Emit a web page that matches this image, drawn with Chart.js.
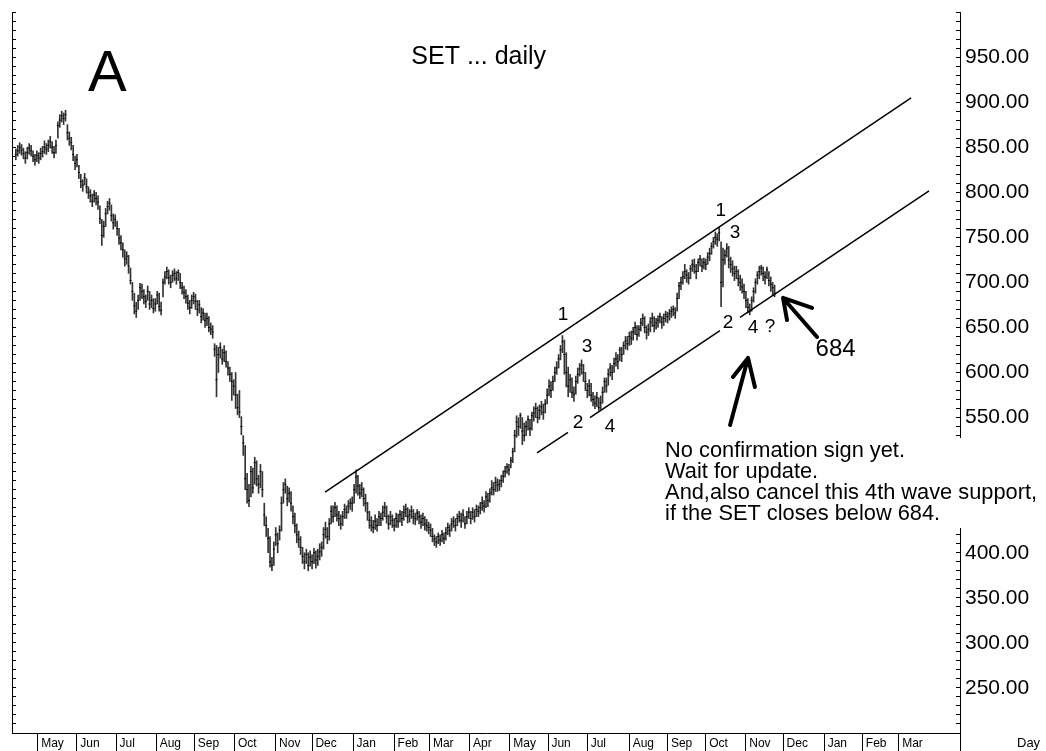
<!DOCTYPE html>
<html>
<head>
<meta charset="utf-8">
<title>SET ... daily</title>
<script src="https://cdn.jsdelivr.net/npm/chart.js@4.4.1/dist/chart.umd.min.js"></script>
<style>
  html, body { margin: 0; padding: 0; background: #fff; }
  #wrap { width: 1046px; height: 751px; }
</style>
</head>
<body>
<div id="wrap"><canvas id="chart"></canvas></div>
<script>
// x axis counts trading days, month labels sit at the first day of each month
const monthNames = ['May', 'Jun', 'Jul', 'Aug', 'Sep', 'Oct', 'Nov', 'Dec', 'Jan', 'Feb', 'Mar', 'Apr',
    'May', 'Jun', 'Jul', 'Aug', 'Sep', 'Oct', 'Nov', 'Dec', 'Jan', 'Feb', 'Mar'];
const monthStarts = [13.5, 34, 54.5, 75.5, 95.5, 116.5, 138, 157, 178.5, 200, 218.5, 239.5,
    260.5, 280.5, 301, 323, 343, 363, 384, 403.5, 425, 445, 464];
const lastDay = 496;
const priceLabels = [250, 300, 350, 400, 450, 500, 550, 600, 650, 700, 750, 800, 850, 900, 950];

const firstDay = 2;
const closes = [
    842, 846, 850, 847, 843, 838, 844, 849, 846, 840,
    836, 841, 838, 843, 845, 850, 848, 852, 856, 850,
    844, 852, 874, 880, 885, 882, 886, 866, 860, 855,
    842, 832, 836, 822, 812, 808, 816, 806, 800, 796,
    790, 797, 793, 789, 771, 752, 762, 776, 784, 788,
    774, 766, 770, 760, 749, 744, 736, 726, 729, 718,
    702, 690, 674, 668, 680, 694, 690, 684, 679, 690,
    676, 680, 671, 676, 686, 673, 669, 700, 706, 712,
    705, 700, 708, 710, 704, 711, 700, 694, 689, 684,
    677, 672, 680, 684, 679, 670, 675, 662, 666, 658,
    660, 650, 648, 645, 626, 592, 620, 628, 615, 622,
    612, 605, 598, 590, 585, 575, 561, 556, 540, 522,
    482, 470, 458, 490, 472, 500, 482, 476, 490, 470,
    442, 430, 416, 390, 386, 404, 420, 410, 425, 455,
    470, 476, 460, 466, 455, 440, 430, 420, 415, 406,
    396, 390, 398, 386, 395, 390, 400, 392, 396, 401,
    406, 420, 426, 418, 432, 446, 440, 450, 442, 438,
    432, 440, 448, 445, 452, 455, 455, 470, 484, 474,
    466, 470, 460, 455, 445, 436, 430, 428, 435, 430,
    440, 438, 445, 450, 440, 432, 440, 436, 430, 438,
    435, 442, 438, 445, 448, 440, 442, 446, 440, 438,
    444, 440, 434, 438, 432, 430, 428, 425, 418, 415,
    412, 418, 414, 420, 416, 422, 428, 425, 432, 435,
    430, 438, 440, 436, 442, 432, 440, 445, 438, 445,
    440, 448, 446, 450, 455, 452, 462, 458, 466, 472,
    470, 478, 475, 476, 480, 485, 490, 495, 492, 502,
    512, 530, 545, 540, 552, 535, 530, 540, 548, 538,
    552, 555, 560, 550, 558, 562, 556, 565, 575, 585,
    580, 590, 600, 605, 615, 625, 634, 620, 600, 585,
    592, 578, 576, 590, 598, 604, 608, 600, 590, 580,
    585, 575, 570, 566, 572, 561, 566, 578, 590, 585,
    598, 605, 600, 610, 615, 612, 625, 620, 630, 635,
    632, 640, 638, 645, 650, 642, 648, 655, 660, 650,
    645, 648, 656, 660, 652, 655, 658, 662, 656, 660,
    664, 662, 665, 668, 670, 666, 682, 696, 700, 706,
    712, 708, 705, 715, 720, 718, 712, 722, 726, 718,
    722, 720, 728, 732, 740, 745, 750, 748, 755, 700,
    725, 730, 738, 725, 720, 715, 710, 712, 704, 700,
    695, 690, 680, 672, 668, 680, 690, 700, 708, 712,
    716, 710, 706, 714, 702, 698, 694, 688
];
const highs = [
    848, 852, 855, 853, 849, 845, 850, 854, 852, 846,
    842, 846, 844, 849, 851, 857, 854, 858, 862, 856,
    851, 858, 878, 886, 890, 888, 891, 875, 867, 861,
    852, 840, 842, 830, 820, 814, 821, 815, 806, 803,
    798, 802, 800, 796, 785, 770, 768, 782, 790, 793,
    786, 776, 775, 768, 760, 752, 744, 736, 734, 730,
    716, 700, 688, 678, 686, 699, 698, 692, 686, 696,
    690, 686, 682, 682, 690, 688, 678, 704, 712, 717,
    714, 708, 713, 715, 712, 714, 710, 700, 696, 692,
    686, 680, 686, 689, 687, 680, 680, 672, 671, 666,
    666, 662, 655, 652, 632, 630, 628, 633, 626, 630,
    624, 612, 606, 600, 592, 600, 576, 580, 551, 530,
    519, 488, 476, 496, 494, 506, 502, 486, 498, 490,
    455, 440, 427, 418, 395, 412, 428, 422, 430, 462,
    478, 482, 474, 472, 468, 452, 444, 432, 424, 418,
    406, 400, 404, 400, 402, 398, 405, 402, 404, 410,
    412, 428, 434, 428, 438, 452, 452, 456, 452, 446,
    442, 446, 454, 452, 458, 460, 462, 476, 492, 486,
    476, 478, 472, 465, 456, 446, 440, 436, 442, 438,
    446, 444, 452, 456, 452, 442, 446, 442, 438, 444,
    443, 447, 446, 452, 454, 450, 448, 452, 448, 444,
    448, 446, 442, 444, 440, 437, 434, 432, 427, 420,
    418, 422, 420, 425, 422, 428, 433, 431, 438, 440,
    438, 443, 446, 444, 448, 440, 446, 450, 446, 450,
    448, 453, 452, 456, 462, 458, 468, 466, 471, 480,
    478, 484, 482, 481, 486, 491, 496, 499, 498, 506,
    516, 536, 552, 550, 555, 550, 544, 546, 552, 548,
    556, 562, 566, 562, 564, 568, 565, 570, 582, 592,
    590, 596, 606, 612, 620, 630, 641, 636, 622, 606,
    598, 594, 584, 596, 605, 610, 614, 609, 600, 588,
    592, 588, 578, 574, 578, 572, 574, 584, 594, 594,
    604, 610, 608, 616, 622, 620, 628, 628, 634, 640,
    640, 645, 646, 650, 656, 652, 652, 660, 665, 662,
    652, 654, 661, 666, 662, 660, 663, 666, 662, 665,
    668, 667, 670, 673, 674, 672, 688, 700, 706, 712,
    720, 714, 711, 719, 725, 726, 720, 726, 730, 726,
    727, 726, 733, 738, 744, 750, 756, 754, 761, 745,
    738, 736, 743, 740, 728, 724, 718, 718, 714, 708,
    704, 698, 690, 682, 676, 684, 694, 704, 712, 718,
    719, 717, 712, 717, 712, 706, 700, 697
];
const lows = [
    836, 840, 843, 841, 837, 832, 837, 842, 840, 834,
    830, 834, 832, 836, 839, 843, 842, 845, 849, 843,
    838, 843, 860, 872, 878, 875, 879, 858, 852, 847,
    835, 825, 828, 815, 805, 801, 808, 799, 793, 789,
    784, 789, 786, 781, 765, 741, 750, 762, 776, 780,
    768, 759, 762, 752, 742, 736, 728, 718, 720, 710,
    698, 680, 665, 661, 670, 680, 682, 676, 672, 680,
    670, 672, 666, 668, 676, 668, 664, 684, 698, 704,
    698, 694, 700, 702, 698, 702, 693, 687, 682, 677,
    670, 665, 671, 676, 670, 663, 666, 655, 658, 650,
    652, 645, 642, 638, 618, 573, 600, 616, 609, 612,
    606, 597, 590, 569, 575, 560, 553, 550, 531, 508,
    470, 455, 451, 462, 466, 476, 474, 466, 472, 462,
    430, 418, 400, 384, 380, 386, 408, 400, 414, 424,
    455, 466, 452, 456, 446, 432, 422, 411, 406, 398,
    388, 382, 388, 380, 385, 382, 388, 383, 386, 392,
    396, 404, 416, 410, 414, 432, 434, 440, 435, 430,
    426, 430, 438, 438, 444, 448, 446, 455, 466, 464,
    460, 462, 452, 446, 436, 427, 424, 422, 426, 424,
    430, 430, 436, 440, 433, 426, 431, 428, 424, 428,
    428, 434, 430, 436, 440, 433, 434, 438, 432, 431,
    436, 432, 427, 430, 425, 424, 421, 418, 412, 408,
    406, 410, 408, 412, 410, 414, 420, 418, 424, 428,
    424, 430, 434, 428, 434, 427, 432, 438, 432, 437,
    434, 440, 440, 443, 447, 445, 450, 451, 456, 464,
    464, 468, 468, 469, 473, 478, 484, 488, 486, 494,
    500, 512, 528, 530, 538, 520, 524, 530, 536, 530,
    536, 546, 550, 544, 548, 553, 548, 555, 565, 574,
    572, 580, 590, 598, 605, 614, 622, 598, 584, 573,
    578, 572, 568, 576, 588, 596, 598, 590, 580, 572,
    574, 568, 563, 560, 562, 558, 559, 566, 578, 578,
    586, 596, 592, 600, 607, 604, 613, 612, 620, 626,
    625, 630, 631, 636, 642, 636, 640, 646, 652, 644,
    637, 641, 645, 651, 645, 648, 650, 655, 649, 652,
    656, 655, 658, 661, 663, 660, 668, 682, 692, 698,
    704, 700, 698, 704, 712, 710, 704, 712, 718, 712,
    715, 714, 720, 724, 731, 738, 742, 740, 746, 673,
    695, 720, 728, 716, 711, 707, 702, 704, 696, 691,
    688, 682, 672, 666, 664, 668, 678, 688, 698, 704,
    708, 702, 698, 704, 696, 690, 686, 684
];

// channel lines, in trading day / index points
const upperLine = [{x: 163.8, y: 467.4}, {x: 470.4, y: 904.6}];
const lowerLine = [
    {x: 274.7, y: 510.7}, {x: 290.9, y: 533.6}, {x: 296, y: null},
    {x: 302.4, y: 549.9}, {x: 370.4, y: 646.4}, {x: 375, y: null},
    {x: 380.9, y: 661.2}, {x: 479.8, y: 801.4}
];

const waveLabels = [
    {text: '1', day: 288.3, price: 663.8},
    {text: '3', day: 300.8, price: 628.3},
    {text: '2', day: 296.1, price: 544.0},
    {text: '4', day: 312.9, price: 539.5},
    {text: '1', day: 370.9, price: 779.2},
    {text: '3', day: 378.3, price: 754.8},
    {text: '2', day: 374.6, price: 654.9},
    {text: '4', day: 387.7, price: 649.4},
    {text: '?', day: 396.6, price: 650.5}
];

const comment = [
    'No confirmation sign yet.',
    'Wait for update.',
    'And,also cancel this 4th wave support,',
    'if the SET closes below 684.'
];
const commentAt = {day: 341.7, price: 506.2};

const arrows = [
    {tip: [385.1, 616.1], tail: [375.7, 541.7], left: [377.2, 595.0], right: [388.7, 583.9]},
    {tip: [403.4, 682.7], tail: [421.2, 639.4], left: [405.5, 658.2], right: [418.6, 671.6]}
];

const days = closes.map((c, i) => firstDay + i);

const sans = "'Liberation Sans', Arial, sans-serif";
const narrow = "'Liberation Sans Narrow', 'Arial Narrow', 'Liberation Sans', sans-serif";

Chart.defaults.font.family = sans;
Chart.defaults.color = '#000';

function priceTicks(axis) {
    let t = [];
    for (let v = 200; v <= 1000; v += 10) t.push({value: v});
    axis.ticks = t;
}

// fixed axis sizes, and no extra room for half labels at the ends
function fitAxis(size) {
    return axis => {
        if (axis.isHorizontal()) axis.height = size;
        else axis.width = size;
        axis.paddingTop = 0;
        axis.paddingBottom = 0;
        axis.paddingLeft = 0;
        axis.paddingRight = 0;
    };
}

const notesPlugin = {
    id: 'notes',
    afterDraw(chart) {
        const ctx = chart.ctx;
        const xs = chart.scales.x;
        const ys = chart.scales.y;
        const pt = q => [xs.getPixelForValue(q[0]), ys.getPixelForValue(q[1])];
        ctx.save();
        ctx.fillStyle = '#000';

        ctx.font = '58px ' + sans;
        ctx.textAlign = 'left';
        ctx.textBaseline = 'alphabetic';
        ctx.fillText('A', xs.getPixelForValue(39.8), ys.getPixelForValue(912.3));

        ctx.font = '25px ' + sans;
        ctx.textAlign = 'center';
        ctx.fillText('SET ... daily', xs.getPixelForValue(244.2), ys.getPixelForValue(942.3));

        ctx.font = '19px ' + sans;
        ctx.textBaseline = 'middle';
        waveLabels.forEach(w => {
            ctx.fillText(w.text, xs.getPixelForValue(w.day), ys.getPixelForValue(w.price));
        });

        ctx.font = '24px ' + sans;
        ctx.fillText('684', xs.getPixelForValue(430.9), ys.getPixelForValue(626.1));

        // the comment sits on a white box that hides part of the price axis
        const cx = xs.getPixelForValue(commentAt.day);
        const cy = ys.getPixelForValue(commentAt.price);
        const lh = 21;
        ctx.fillStyle = '#fff';
        ctx.fillRect(cx - 5, cy - 19, chart.width - cx + 5, lh * (comment.length - 1) + 27);
        ctx.fillStyle = '#000';
        ctx.font = '21.8px ' + sans;
        ctx.textAlign = 'left';
        ctx.textBaseline = 'alphabetic';
        comment.forEach((line, i) => ctx.fillText(line, cx, cy + i * lh));

        ctx.strokeStyle = '#000';
        ctx.lineWidth = 4;
        ctx.lineCap = 'round';
        arrows.forEach(a => {
            const tip = pt(a.tip);
            ctx.beginPath();
            [a.tail, a.left, a.right].forEach(q => {
                const e = pt(q);
                ctx.moveTo(tip[0], tip[1]);
                ctx.lineTo(e[0], e[1]);
            });
            ctx.stroke();
        });

        ctx.font = '13px ' + narrow;
        ctx.textAlign = 'left';
        ctx.textBaseline = 'middle';
        ctx.fillText('Day', xs.right + 57, xs.top + 10);
        ctx.restore();
    }
};

const axisGrid = {drawOnChartArea: false, offset: false, tickLength: -4, color: '#000', tickColor: '#000', lineWidth: 1};

new Chart(document.getElementById('chart'), {
    type: 'bar',
    data: {
        datasets: [{
            type: 'line',
            data: upperLine,
            borderColor: '#000',
            borderWidth: 1.5,
            pointRadius: 0,
            tension: 0
        }, {
            type: 'line',
            data: lowerLine,
            borderColor: '#000',
            borderWidth: 1.5,
            pointRadius: 0,
            tension: 0,
            spanGaps: false
        }, {
            type: 'scatter',
            data: days.map((d, i) => ({x: d, y: closes[i]})),
            pointStyle: 'line',
            pointRadius: 1,
            borderColor: '#000',
            borderWidth: 1
        }, {
            type: 'bar',
            data: days.map((d, i) => ({x: d, y: [lows[i], highs[i]]})),
            backgroundColor: '#333',
            borderWidth: 0,
            barThickness: 1,
            grouped: false
        }]
    },
    options: {
        responsive: true,
        maintainAspectRatio: false,
        animation: false,
        events: [],
        layout: {autoPadding: false, padding: {top: 12}},
        plugins: {
            legend: {display: false},
            tooltip: {enabled: false}
        },
        scales: {
            x: {
                type: 'linear',
                min: 0,
                max: lastDay,
                offset: false,
                afterBuildTicks: axis => {
                    axis.ticks = monthStarts.concat([lastDay]).map(v => ({value: v}));
                },
                afterFit: fitAxis(18),
                grid: {drawOnChartArea: false, offset: false, tickLength: 18, color: '#000', tickColor: '#000'},
                border: {color: '#000', width: 1},
                ticks: {
                    autoSkip: false,
                    maxRotation: 0,
                    align: 'start',
                    padding: -15,
                    font: {family: narrow, size: 12},
                    callback: (v, i) => i < monthNames.length ? ' ' + monthNames[i] : ''
                }
            },
            y: {
                type: 'linear',
                position: 'right',
                min: 200,
                max: 1000,
                afterBuildTicks: priceTicks,
                afterFit: fitAxis(86),
                grid: axisGrid,
                border: {color: '#000', width: 1},
                ticks: {
                    autoSkip: false,
                    padding: 9,
                    font: {family: sans, size: 21},
                    callback: v => priceLabels.includes(v) ? v.toFixed(2) : ''
                }
            },
            y2: {
                type: 'linear',
                position: 'left',
                min: 200,
                max: 1000,
                afterBuildTicks: priceTicks,
                afterFit: fitAxis(12),
                grid: axisGrid,
                border: {color: '#000', width: 1},
                ticks: {display: false}
            }
        }
    },
    plugins: [notesPlugin]
});
</script>
</body>
</html>
